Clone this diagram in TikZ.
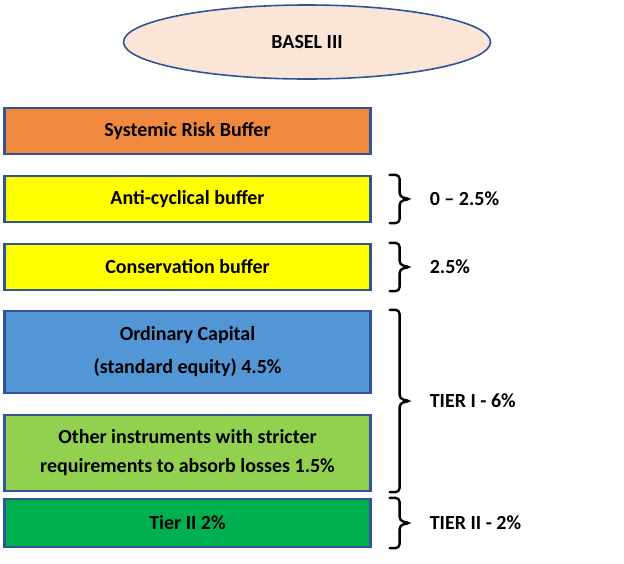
\documentclass[tikz,border=0pt]{standalone}
\usepackage{fontspec}
\setmainfont{Carlito}
\usetikzlibrary{shapes.geometric,calc}
\definecolor{edgeblue}{HTML}{2F5597}
\definecolor{peach}{HTML}{FBE5D6}
\definecolor{orng}{HTML}{F0883E}
\definecolor{ylw}{HTML}{FFFF00}
\definecolor{blu}{HTML}{5296D5}
\definecolor{lgrn}{HTML}{92D050}
\definecolor{dgrn}{HTML}{00B050}
\tikzset{
  layer/.style={draw=edgeblue, line width=2.2pt, minimum width=366pt, inner sep=0pt, align=center, font=\fontsize{20}{31}\selectfont\bfseries},
  bracestyle/.style={draw=black, line width=2.4pt, rounded corners=4pt, line cap=round},
  lbl/.style={anchor=west, font=\fontsize{20}{22}\selectfont\bfseries, inner sep=0pt}
}
\newcommand\bracefor[3]{%
  \draw[bracestyle] let \p1=(#1.north east), \p2=(#2.south east) in
    (\x1+18pt,\y1) -- (\x1+28pt,\y1) -- (\x1+28pt,{(\y1+\y2)/2+2pt}) -- (\x1+39pt,{(\y1+\y2)/2})
    -- (\x1+28pt,{(\y1+\y2)/2-2pt}) -- (\x1+28pt,\y2) -- (\x1+18pt,\y2);
  \path let \p1=(#1.north east), \p2=(#2.south east) in
    node[lbl] (#3) at (\x1+58pt,{(\y1+\y2)/2}) {\csname lbltext#3\endcsname};
}
\begin{document}
\begin{tikzpicture}[x=1pt,y=-1pt]
\useasboundingbox (0,0) rectangle (624,563);
\node[ellipse, draw=edgeblue, line width=1.6pt, fill=peach, minimum width=367pt, minimum height=74pt, inner sep=0pt,
  font=\fontsize{20}{22}\selectfont\bfseries] (basel) at (307,42) {BASEL III};
\node[layer, fill=orng, minimum height=46pt] (srb) at (187.5,131) {Systemic Risk Buffer};
\node[layer, fill=ylw, minimum height=46pt] (acb) at (187.5,199) {Anti-cyclical buffer};
\node[layer, fill=ylw, minimum height=46pt] (cb) at (187.5,267) {Conservation buffer};
\node[layer, fill=blu, minimum height=82pt, font=\fontsize{20}{33}\selectfont\bfseries] (oc) at (187.5,352) {Ordinary Capital\\(standard equity) 4.5\%};
\node[layer, fill=lgrn, minimum height=76pt, font=\fontsize{20}{29}\selectfont\bfseries] (oi) at (187.5,453) {Other instruments with stricter\\requirements to absorb losses 1.5\%};
\node[layer, fill=dgrn, minimum height=48pt] (t2) at (187.5,523) {Tier II 2\%};
\expandafter\def\csname lbltextlacb\endcsname{0 -- 2.5\%}
\expandafter\def\csname lbltextlcb\endcsname{2.5\%}
\expandafter\def\csname lbltextlt1\endcsname{TIER I - 6\%}
\expandafter\def\csname lbltextlt2\endcsname{TIER II - 2\%}
\bracefor{acb}{acb}{lacb}
\bracefor{cb}{cb}{lcb}
\bracefor{oc}{oi}{lt1}
\bracefor{t2}{t2}{lt2}
\end{tikzpicture}
\end{document}
